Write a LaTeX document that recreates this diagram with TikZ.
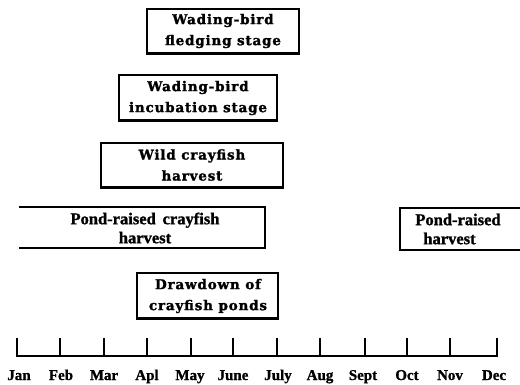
\documentclass[tikz,border=0pt]{standalone}
\usepackage{fontspec}
\setmainfont{Liberation Serif}[BoldFeatures={FakeBold=1.2}]
\newfontfamily\slab{DejaVu Serif}[LetterSpace=6,BoldFeatures={FakeBold=1.6,LetterSpace=6}]
\begin{document}
\begin{tikzpicture}[x=1pt,y=-1pt,
  thin edge/.style={line width=1.8pt},
  heavy edge/.style={line width=2.8pt},
  slabtext/.style={align=center,font=\slab\bfseries\fontsize{13.5}{21}\selectfont,inner sep=0pt},
  pondtext/.style={align=center,font=\bfseries\fontsize{16.5}{19}\selectfont,inner sep=0pt},
  monthtext/.style={font=\bfseries\fontsize{15}{15}\selectfont,inner sep=0pt,anchor=base}]
\useasboundingbox (0,0) rectangle (520,384);
% Fledging
\draw[thin edge] (299,53) -- (147,53) -- (147,9) -- (299,9);
\draw[heavy edge] (299,8) -- (299,54) -- (146,54);
\node[slabtext] (fledge) at (223,31) {Wading-bird\\fledging stage};
% Incubation
\draw[thin edge] (277,120) -- (119,120) -- (119,75) -- (277,75);
\draw[heavy edge] (277,74) -- (277,121) -- (118,121);
\node[slabtext] (incub) at (198,98) {Wading-bird\\incubation stage};
% Wild crayfish
\draw[thin edge] (283,187) -- (101,187) -- (101,143) -- (283,143);
\draw[heavy edge] (283,142) -- (283,188) -- (100,188);
\node[slabtext] (wild) at (192,165) {Wild crayfish\\harvest};
% Pond-raised crayfish (open left)
\draw[thin edge] (19,207) -- (265,207);
\draw[heavy edge] (265,206) -- (265,248) -- (19,248);
\node[pondtext] (pond1) at (145,228) {Pond-raised\, crayfish\\harvest};
% Pond-raised harvest (open right)
\draw[thin edge] (520,208) -- (400,208) -- (400,250);
\draw[heavy edge] (399,250) -- (520,250);
\node[pondtext,align=left] (pond2) at (458,229) {Pond-raised\\\hspace{8pt}harvest};
% Drawdown
\draw[thin edge] (278,318) -- (137,318) -- (137,273) -- (278,273);
\draw[heavy edge] (278,272) -- (278,319) -- (136,319);
\node[slabtext] (draw) at (208,296) {Drawdown of\\crayfish ponds};
% Axis
\coordinate (axL) at (16,356);
\coordinate (axR) at (498,356);
\draw[line width=2.4pt] (axL) -- (axR);
\foreach \x/\m/\lx in {17/Jan/19,60/Feb/61,104/Mar/104,147/Apl/147,191/May/190,233/June/233,277/July/278,320/Aug/320,365/Sept/363,407/Oct/407,450/Nov/450,497/Dec/494} {
  \draw[line width=2.2pt] (\x,356) -- (\x,338);
  \node[monthtext] (m\m) at (\lx,380) {\m};
}
\end{tikzpicture}
\end{document}
